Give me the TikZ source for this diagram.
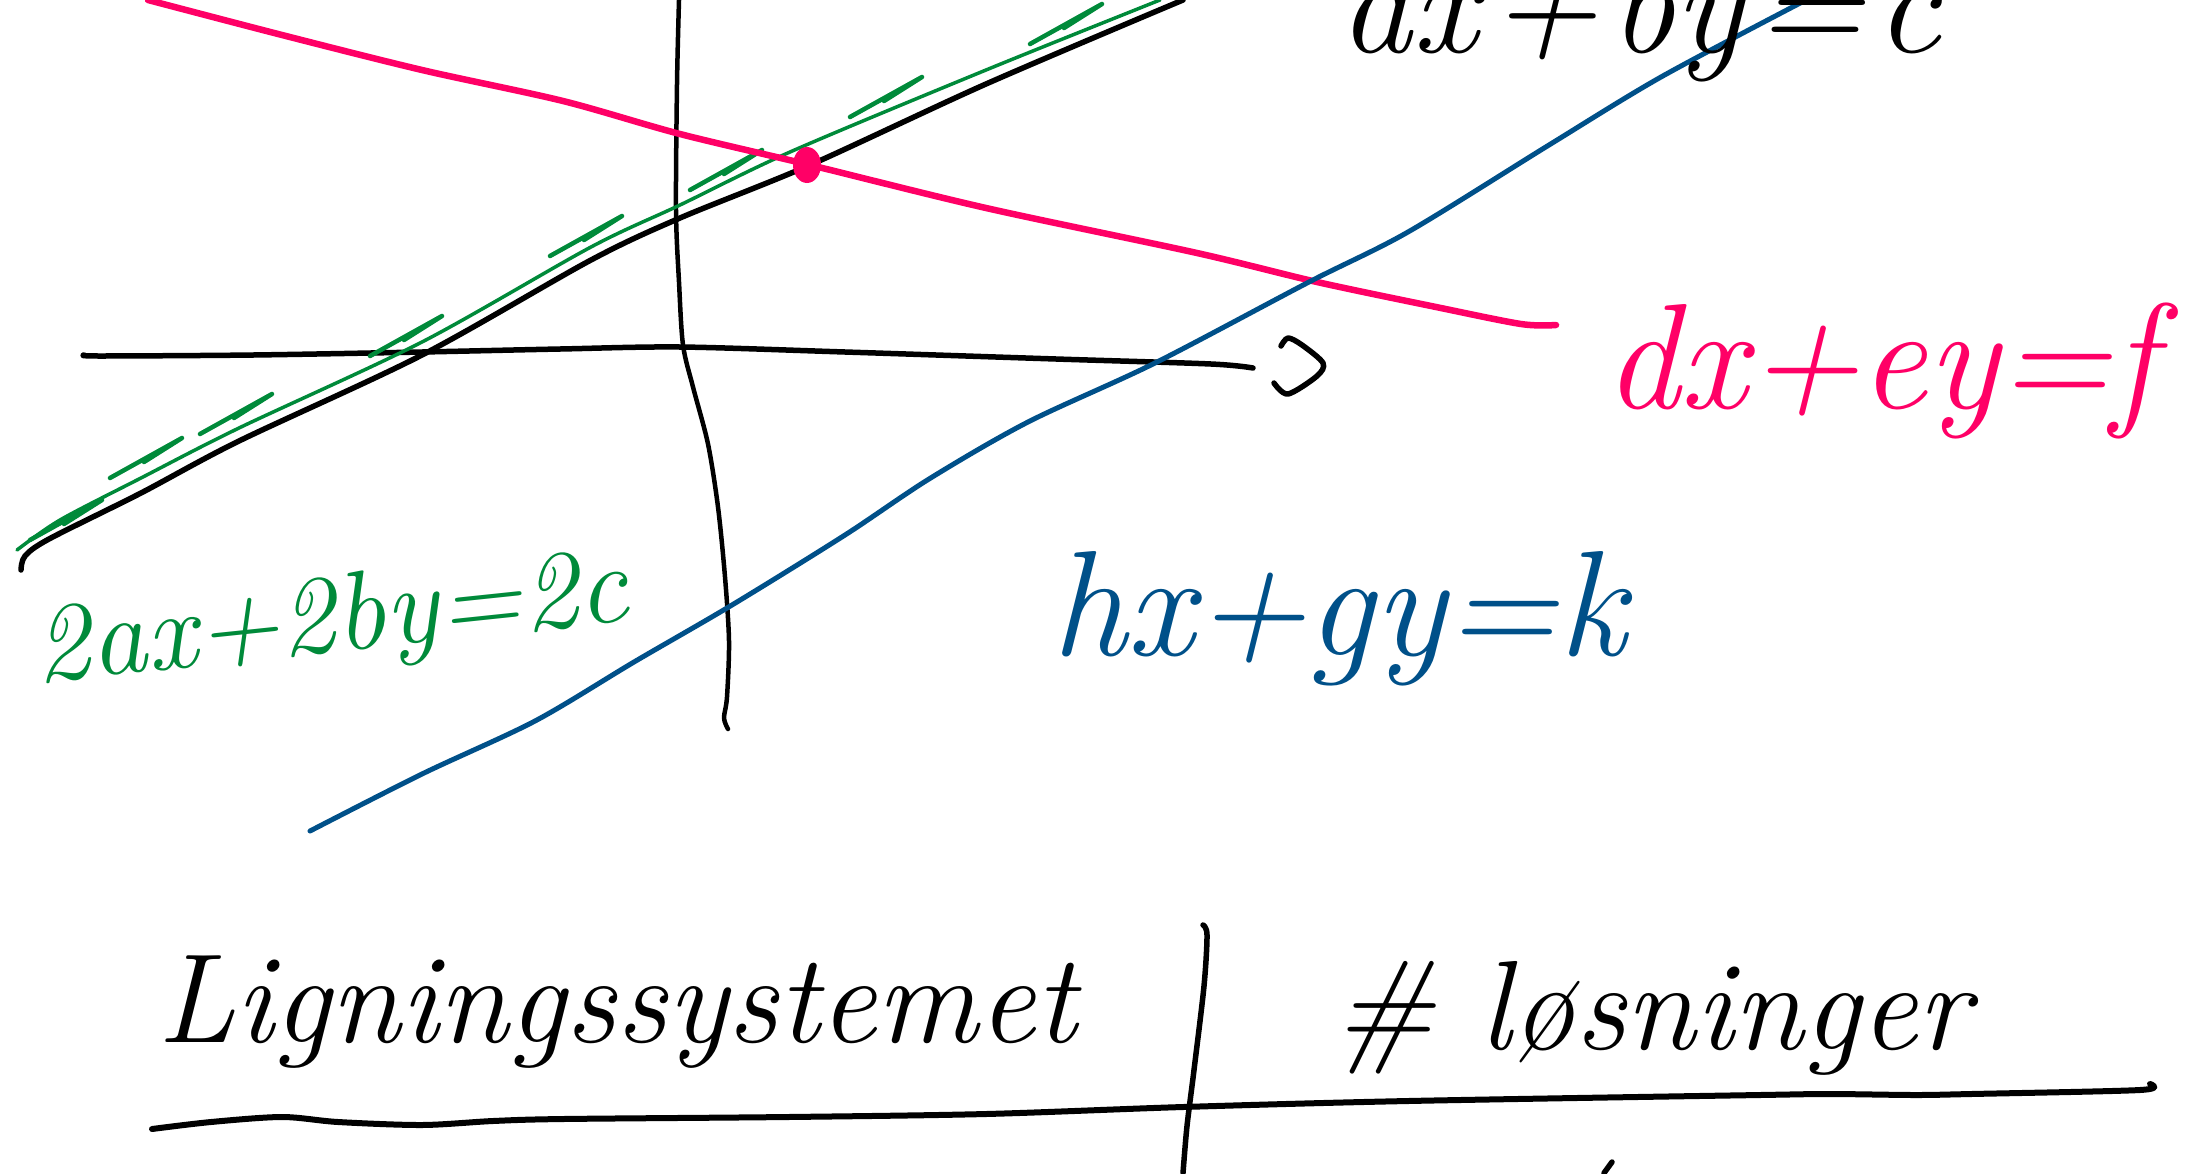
\documentclass[tikz,border=0pt]{standalone}
\definecolor{rosa}{HTML}{FF0066}
\definecolor{gronn}{HTML}{008A3A}
\definecolor{blaa}{HTML}{005089}

\begin{document}
\begin{tikzpicture}[x=1pt, y=-1pt, line width=5.5pt, line cap=round, line join=round,
  lbl/.style={anchor=base west, inner sep=0pt}]

  \path[use as bounding box] (0,0) rectangle (2208,1173);

  % ════ 坐标轴 ════
  \draw plot[smooth] coordinates {(84,355) (100,356) (253,355) (422,352) (560,349) (680,347) (845,352) (1056,359) (1211,364) (1253,368)};
  \draw plot[smooth] coordinates {(1281,346) (1288,338) (1302,345) (1323,363) (1317,376) (1288,394) (1274,383)};
  \draw[line width=4.5pt] plot[smooth] coordinates {(679,0) (677,84) (676,211) (679,282) (683,345) (693,387) (708,444) (718,507) (725,577) (729,641) (727,697) (724,718) (728,729)};

  % ════ 四条直线 ════
  % ax+by=c
  \draw plot[smooth] coordinates {(21,570) (25,556) (49,539) (141,493) (239,441) (422,355) (591,260) (680,218) (810,165) (986,84) (1183,0)};
  % 2ax+2by=2c（草稿式）
  \draw[gronn, line width=3.5pt] plot[smooth] coordinates {(17,550) (60,520) (141,478) (239,428) (422,342) (591,247) (680,205) (790,152) (986,70) (1160,0)};
  \foreach \x/\y in {30/540, 110/478, 200/434, 370/356, 550/256, 690/190, 850/117, 1030/44}
    \draw[gronn, line width=4.5pt] (\x,\y) -- ++(72,-40) -- ++(-38,24);
  % dx+ey=f
  \draw[rosa, line width=6.5pt] plot[smooth] coordinates {(148,0) (282,35) (422,70) (563,101) (680,134) (810,165) (986,208) (1197,253) (1317,282) (1436,307) (1521,324) (1556,325)};
  % hx+gy=k
  \draw[blaa, line width=5pt] plot[smooth] coordinates {(310,831) (422,774) (535,721) (634,662) (732,605) (845,535) (929,479) (1028,422) (1155,363) (1309,282) (1408,232) (1549,145) (1661,77) (1806,0)};

  % ════ 交点 ════
  \fill[rosa] (807,165) ellipse (14 and 18);

  % ════ 方程标签 ════
  \node[lbl, font=\fontsize{145}{150}\selectfont\itshape] (eqA) at (1337,52) {ax\kern.08em+\kern.08em by\kern.08em=\kern.08em c};
  \node[lbl, text=rosa, font=\fontsize{150}{160}\selectfont\itshape] (eqB) at (1602,408) {dx+ey=f};
  \node[lbl, text=gronn, rotate=6, font=\fontsize{112}{120}\selectfont\itshape] (eqC) at (35,683) {2ax+2by=2c};
  \node[lbl, text=blaa, font=\fontsize{150}{160}\selectfont\itshape] (eqD) at (1049,655) {hx+gy=k};

  % ════ 表格 ════
  \node[lbl, font=\fontsize{127}{135}\selectfont\itshape] (sys) at (155,1042) {Ligningssystemet};
  \node[lbl, font=\fontsize{127}{135}\selectfont\itshape] (ant) at (1331,1049) {\# løsninger};
  \draw[line width=6pt] plot[smooth] coordinates {(152,1129) (211,1122) (282,1117) (338,1122) (422,1125) (493,1121) (563,1119) (788,1117) (986,1114) (1183,1107) (1408,1101) (1760,1095) (1830,1094) (1915,1095) (1971,1094) (2140,1090) (2150,1084)};
  \draw plot[smooth] coordinates {(1203,925) (1207,935) (1204,986) (1194,1070) (1187,1126) (1183,1173)};
  \draw (1612,1162) -- (1604,1173);
\end{tikzpicture}
\end{document}
